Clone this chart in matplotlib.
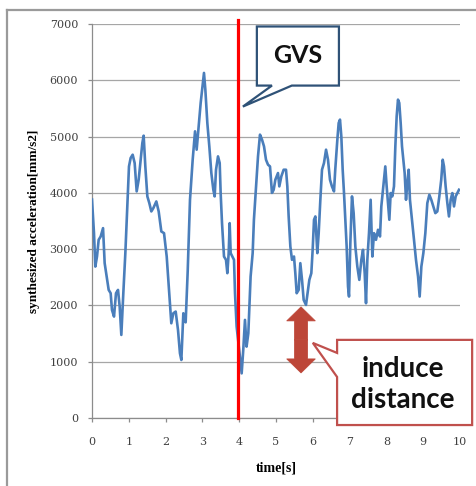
import matplotlib
matplotlib.use("Agg")
import matplotlib.pyplot as plt
from matplotlib.patches import Polygon, FancyArrow
from matplotlib.lines import Line2D

# synthesized acceleration
time_s = [0.00, 0.054, 0.09, 0.136, 0.181, 0.236, 0.30, 0.344, 0.399, 0.453,
          0.507, 0.543, 0.598, 0.652, 0.707, 0.752, 0.797, 0.851, 0.906, 0.96,
          1.005, 1.05, 1.105, 1.159, 1.214, 1.268, 1.322, 1.368, 1.404, 1.449,
          1.504, 1.558, 1.612, 1.667, 1.748, 1.812, 1.884, 1.957, 2.03, 2.10,
          2.155, 2.21, 2.274, 2.337, 2.39, 2.428, 2.482, 2.50, 2.545, 2.60,
          2.663, 2.736, 2.80, 2.844, 2.899, 2.953, 3.007, 3.043, 3.08, 3.134,
          3.188, 3.243, 3.297, 3.333, 3.37, 3.424, 3.47, 3.496, 3.533, 3.587,
          3.641, 3.678, 3.714, 3.741, 3.768, 3.814, 3.859, 3.886, 3.93, 4.00,
          4.067, 4.11, 4.157, 4.20, 4.248, 4.31, 4.366, 4.40, 4.457, 4.511,
          4.565, 4.62, 4.674, 4.728, 4.783, 4.837, 4.89, 4.937, 4.982, 5.054,
          5.09, 5.145, 5.208, 5.272, 5.308, 5.344, 5.39, 5.435, 5.489, 5.525,
          5.562, 5.616, 5.661, 5.707, 5.752, 5.815, 5.87, 5.906, 5.96, 5.996,
          6.033, 6.07, 6.123, 6.16, 6.205, 6.25, 6.304, 6.36, 6.413, 6.467,
          6.52, 6.576, 6.61, 6.667, 6.703, 6.739, 6.775, 6.812, 6.848, 6.884,
          6.92, 6.957, 6.984, 7.02, 7.065, 7.11, 7.156, 7.21, 7.264, 7.319,
          7.364, 7.41, 7.446, 7.482, 7.527, 7.572, 7.618, 7.663, 7.717, 7.772,
          7.826, 7.862, 7.917, 7.97, 8.007, 8.043, 8.08, 8.116, 8.16, 8.206,
          8.243, 8.279, 8.315, 8.35, 8.388, 8.424, 8.46, 8.496, 8.533, 8.569,
          8.605, 8.64, 8.696, 8.75, 8.804, 8.86, 8.904, 8.95, 9.004, 9.058,
          9.112, 9.167, 9.22, 9.275, 9.33, 9.384, 9.438, 9.49, 9.53, 9.565,
          9.61, 9.656, 9.70, 9.746, 9.792, 9.837, 9.882, 9.928, 9.973]
accel = [3880, 3285, 2690, 2870, 3166, 3225, 3373, 2751, 2514, 2276,
         2217, 1920, 1802, 2217, 2276, 1980, 1476, 2217, 2929, 3759,
         4470, 4619, 4678, 4530, 4026, 4233, 4589, 4886, 5016, 4470,
         3937, 3818, 3670, 3729, 3848, 3670, 3314, 3284, 2869, 2217,
         1683, 1861, 1891, 1565, 1150, 1031, 1861, 1750, 1700, 2600,
         3877, 4589, 5093, 4767, 5182, 5597, 5923, 6131, 5834, 5241,
         4826, 4352, 4055, 3937, 4411, 4648, 4530, 3996, 3462, 2869,
         2810, 2573, 2929, 3462, 2929, 2869, 2810, 2217, 1624, 1209,
         793, 1209, 1743, 1268, 1505, 2514, 2929, 3522, 4115, 4648,
         5034, 4945, 4826, 4589, 4500, 4470, 4000, 4055, 4233, 4352,
         4115, 4293, 4411, 4411, 4115, 3581, 3047, 2810, 2869, 2573,
         2217, 2276, 2751, 2454, 2098, 2009, 2276, 2454, 2573, 2988,
         3522, 3581, 2929, 3284, 3877, 4411, 4530, 4767, 4589, 4233,
         4115, 4026, 4411, 4945, 5241, 5301, 5004, 4411, 3996, 3522,
         3047, 2336, 2158, 3107, 3937, 3640, 3047, 2691, 2454, 2810,
         2988, 2573, 2039, 2810, 3284, 3877, 2869, 3284, 3166, 3344,
         3225, 3759, 4115, 4470, 4115, 3818, 3522, 3996, 3937, 4115,
         4826, 5360, 5656, 5597, 5241, 4826, 4589, 4352, 3877, 4174,
         4411, 3877, 3522, 3166, 2810, 2514, 2158, 2691, 2929, 3284,
         3818, 3966, 3877, 3759, 3640, 3670, 3937, 4233, 4589, 4470,
         4115, 3818, 3581, 3877, 3996, 3759, 3937, 3996, 4055]

x_ticks = list(range(0, 11))
y_ticks = list(range(0, 7001, 1000))

gvs_time = 3.96          # onset of galvanic vestibular stimulation
arrow_time = 5.68        # where the "induce distance" arrow sits
arrow_top, arrow_bottom = 1975, 800

fig = plt.figure(figsize=(4.77, 4.86), dpi=100)
fig.patch.set_facecolor("white")

# grey frame of the pasted picture (only left and top edges show)
fig.add_artist(Line2D([7/477, 7/477], [0, 1 - 10/486], color="#9a9a9a", lw=1.6))
fig.add_artist(Line2D([7/477, 1], [1 - 10/486, 1 - 10/486], color="#9a9a9a", lw=1.6))

ax = fig.add_axes([92/477, 68/486, 368/477, 394/486])
ax.set_xlim(0, 10)
ax.set_ylim(0, 7000)

for s in ["top", "right"]:
    ax.spines[s].set_visible(False)
for s in ["left", "bottom"]:
    ax.spines[s].set_color("#8c8c8c")
    ax.spines[s].set_linewidth(0.9)

ax.set_xticks(x_ticks)
ax.set_yticks(y_ticks)
ax.yaxis.grid(True, color="#a6a6a6", lw=0.9)
ax.set_axisbelow(True)
ax.tick_params(axis="both", colors="#8c8c8c", length=3, width=0.9,
               labelcolor="#404040", labelsize=8)
ax.tick_params(axis="x", pad=11)
ax.tick_params(axis="y", pad=7)
for lab in ax.get_xticklabels() + ax.get_yticklabels():
    lab.set_family("DejaVu Serif")

ax.plot(time_s, accel, color="#4a7ebb", lw=1.9, zorder=3)

ax.plot([gvs_time, gvs_time], [0, 7070], color="#ff0000", lw=2.3,
        zorder=4, clip_on=False)

ax.set_xlabel("time[s]", family="Liberation Serif", fontweight="bold",
              fontsize=10, labelpad=10)
ax.set_ylabel("synthesized acceleration[mm/s2]", family="Liberation Serif",
              fontweight="bold", fontsize=9.5, labelpad=7)

# GVS callout
gvs_box = Polygon([(4.48, 6956), (6.71, 6956), (6.71, 5906), (5.43, 5906),
                   (4.10, 5533), (4.89, 5906), (4.48, 5906)],
                  closed=True, facecolor="white", edgecolor="#2f5277",
                  lw=1.6, zorder=6, clip_on=False)
ax.add_patch(gvs_box)
ax.text(5.6, 6440, "GVS", ha="center", va="center", family="Lato",
        fontweight="bold", fontsize=18, color="#111111", zorder=7)

# induce distance callout
ind_box = Polygon([(6.66, 1388), (10.33, 1388), (10.33, -125), (6.66, -125),
                   (6.66, 729), (6.0, 1334), (6.66, 1156)],
                  closed=True, facecolor="white", edgecolor="#c0504d",
                  lw=1.6, zorder=5, clip_on=False)
ax.add_patch(ind_box)
ax.text(8.45, 590, "induce\ndistance", ha="center", va="center",
        family="Lato", fontweight="bold", fontsize=20, color="#111111",
        linespacing=1.25, zorder=7)

# double headed arrow
mid = (arrow_top + arrow_bottom) / 2
for end in (arrow_top, arrow_bottom):
    ax.add_patch(FancyArrow(arrow_time, mid, 0, end - mid, width=0.36,
                            head_width=0.78, head_length=250,
                            length_includes_head=True, facecolor="#bd4638",
                            edgecolor="#bd4638", lw=0.5, zorder=6))

fig.savefig("out.png", dpi=100)
